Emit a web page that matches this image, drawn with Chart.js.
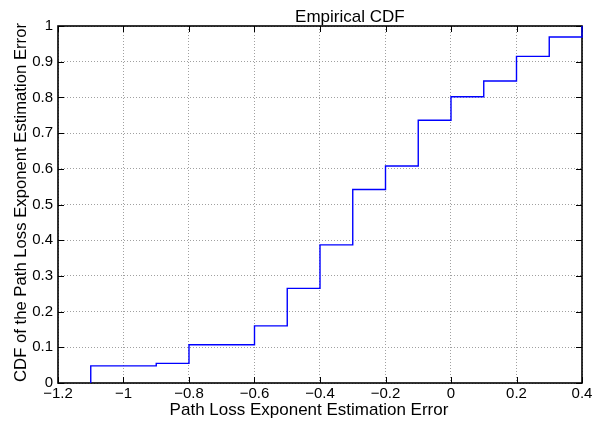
<!DOCTYPE html>
<html>
<head>
<meta charset="utf-8">
<title>Empirical CDF</title>
<script src="https://cdn.jsdelivr.net/npm/chart.js@4"></script>
<style>
    html, body { margin: 0; padding: 0; background: #fff; }
    #wrap { width: 605px; height: 424px; position: relative; }
</style>
</head>
<body>
<div id="wrap"><canvas id="cdf"></canvas></div>
<script>
// step locations of the empirical CDF and the level reached at each step
const errorSteps = [-1.1, -0.9, -0.8, -0.6, -0.5, -0.4, -0.3, -0.2, -0.1, 0, 0.1, 0.2, 0.3, 0.4];
const cdfLevels = [0.048, 0.055, 0.107, 0.160, 0.265, 0.387, 0.542, 0.608, 0.736, 0.802, 0.846, 0.915, 0.969, 1.0];

const xTicks = [-1.2, -1, -0.8, -0.6, -0.4, -0.2, 0, 0.2, 0.4];
const yTicks = [0, 0.1, 0.2, 0.3, 0.4, 0.5, 0.6, 0.7, 0.8, 0.9, 1];

const titleText = 'Empirical CDF';
const xLabel = 'Path Loss Exponent Estimation Error';
const yLabel = 'CDF of the Path Loss Exponent Estimation Error';

const FONT = "'Liberation Sans', Arial, Helvetica, sans-serif";

// stairs start at zero on the first sample
const points = [{ x: errorSteps[0], y: 0 }];
errorSteps.forEach((x, i) => points.push({ x: x, y: cdfLevels[i] }));

const fmt = v => String(Number(v.toFixed(2))).replace('-', '\u2212');

// box, inward tick marks and the text around the axes
const frame = {
    id: 'frame',
    beforeDatasetsDraw(chart) {
        const { ctx, chartArea: a, scales } = chart;
        const len = 6;
        ctx.save();
        ctx.strokeStyle = '#000';
        ctx.lineWidth = 1;
        ctx.beginPath();
        xTicks.forEach(v => {
            const px = Math.round(scales.x.getPixelForValue(v)) + 0.5;
            ctx.moveTo(px, a.bottom); ctx.lineTo(px, a.bottom - len);
            ctx.moveTo(px, a.top); ctx.lineTo(px, a.top + len);
        });
        yTicks.forEach(v => {
            const py = Math.round(scales.y.getPixelForValue(v)) + 0.5;
            ctx.moveTo(a.left, py); ctx.lineTo(a.left + len, py);
            ctx.moveTo(a.right, py); ctx.lineTo(a.right - len, py);
        });
        ctx.stroke();
        ctx.lineWidth = 1.6;
        ctx.strokeRect(a.left, a.top, a.right - a.left, a.bottom - a.top);
        ctx.restore();
    },
    afterDraw(chart) {
        const { ctx, chartArea: a } = chart;
        const w = a.right - a.left;
        ctx.save();
        ctx.fillStyle = '#000';
        ctx.textAlign = 'center';
        ctx.textBaseline = 'alphabetic';
        ctx.font = '17px ' + FONT;
        ctx.fillText(titleText, a.left + w * 0.557, 22);
        ctx.fillText(xLabel, a.left + w * 0.479, 415);
        ctx.font = '16.7px ' + FONT;
        ctx.translate(26, (a.top + a.bottom) / 2 - 2);
        ctx.rotate(-Math.PI / 2);
        ctx.fillText(yLabel, 0, 0);
        ctx.restore();
    }
};

const gridStyle = {
    color: '#a0a0a0',
    lineWidth: 1,
    drawTicks: false
};

new Chart(document.getElementById('cdf'), {
    type: 'scatter',
    data: {
        datasets: [{
            data: points,
            showLine: true,
            stepped: 'before',
            borderColor: '#0000ff',
            borderWidth: 1.4,
            pointRadius: 0,
            clip: false
        }]
    },
    options: {
        responsive: true,
        maintainAspectRatio: false,
        animation: false,
        layout: { padding: { top: 26, right: 23, left: 0, bottom: 0 } },
        plugins: {
            legend: { display: false },
            tooltip: { enabled: false },
            title: { display: false }
        },
        scales: {
            x: {
                type: 'linear',
                min: -1.2,
                max: 0.4,
                afterBuildTicks: s => { s.ticks = xTicks.map(v => ({ value: v })); },
                afterFit: s => { s.height = 41; },
                grid: gridStyle,
                border: { display: false, dash: [1, 2] },
                ticks: {
                    color: '#000',
                    padding: 2,
                    font: { family: FONT, size: 15 },
                    maxRotation: 0,
                    callback: v => fmt(v)
                }
            },
            y: {
                type: 'linear',
                min: 0,
                max: 1,
                afterBuildTicks: s => { s.ticks = yTicks.map(v => ({ value: v })); },
                afterFit: s => { s.width = 58; },
                grid: gridStyle,
                border: { display: false, dash: [1, 2] },
                ticks: {
                    color: '#000',
                    padding: 5,
                    font: { family: FONT, size: 15 },
                    callback: v => fmt(v)
                }
            }
        }
    },
    plugins: [frame]
});
</script>
</body>
</html>
